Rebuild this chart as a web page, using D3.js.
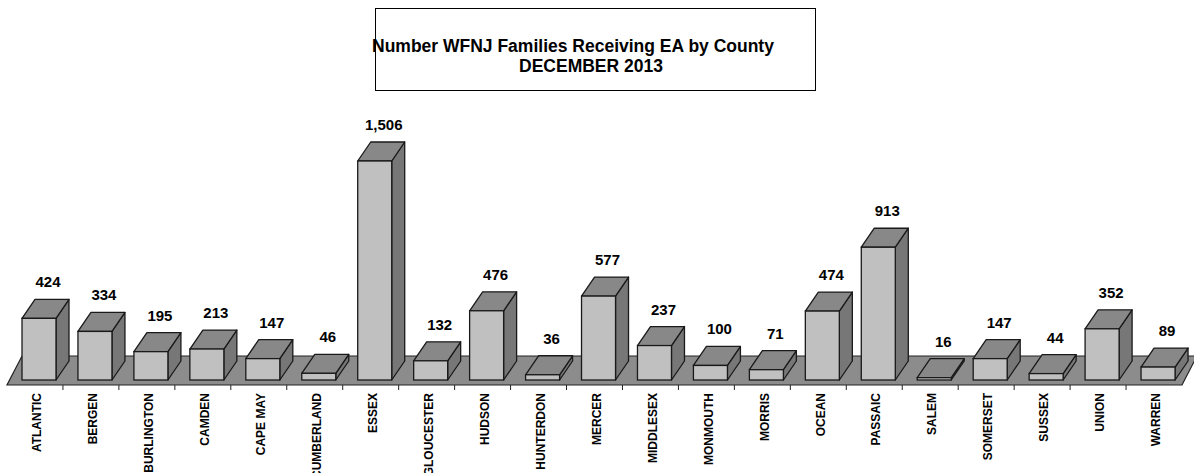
<!DOCTYPE html>
<html>
<head>
<meta charset="utf-8">
<script src="https://cdn.jsdelivr.net/npm/d3@7"></script>
<style>
  body { margin: 0; background: #fff; }
  svg { display: block; font-family: "Liberation Sans", Arial, sans-serif; }
</style>
</head>
<body>
<div id="chart"></div>
<script>
const counties = ["ATLANTIC", "BERGEN", "BURLINGTON", "CAMDEN", "CAPE MAY", "CUMBERLAND", "ESSEX",
    "GLOUCESTER", "HUDSON", "HUNTERDON", "MERCER", "MIDDLESEX", "MONMOUTH", "MORRIS", "OCEAN",
    "PASSAIC", "SALEM", "SOMERSET", "SUSSEX", "UNION", "WARREN"];
const families = [424, 334, 195, 213, 147, 46, 1506, 132, 476, 36, 577, 237, 100, 71, 474,
    913, 16, 147, 44, 352, 89];
const titleLines = ["Number WFNJ Families Receiving EA by County", "DECEMBER 2013"];

const width = 1194, height = 473;

var svg = d3.select("#chart").append("svg")
    .attr("width", width)
    .attr("height", height);

// title box
svg.append("rect")
    .attr("x", 375.5).attr("y", 8.5)
    .attr("width", 440).attr("height", 82)
    .attr("fill", "#fff").attr("stroke", "#000").attr("stroke-width", 1);

svg.append("text")
    .attr("x", 372).attr("y", 52)
    .attr("font-size", 17.5).attr("font-weight", "bold")
    .text(titleLines[0]);
svg.append("text")
    .attr("x", 591).attr("y", 72)
    .attr("text-anchor", "middle")
    .attr("font-size", 17.5).attr("font-weight", "bold")
    .text(titleLines[1]);

// floor geometry
var floorFront = 385, floorBack = 356, floorDx = 15;
var x = d3.scaleBand().domain(counties).range([7, 1182]);
var y = d3.scaleLinear().domain([0, 1506]).range([380, 161]);

var barOffset = 15, barW = 34, dx = 13, dy = -19;

svg.append("polygon")
    .attr("points", [[7, floorFront], [1182, floorFront], [1182 + floorDx, floorBack], [7 + floorDx, floorBack]].join(" "))
    .attr("fill", "#8c8c8c")
    .attr("stroke", "#222").attr("stroke-width", 1.2);

// ticks on the front edge
svg.selectAll(".tick")
    .data(counties.slice(1))
    .enter().append("line")
    .attr("x1", d => x(d)).attr("x2", d => x(d))
    .attr("y1", floorFront).attr("y2", floorFront + 5)
    .attr("stroke", "#222").attr("stroke-width", 1);

var bars = svg.selectAll(".bar")
    .data(counties.map((c, i) => ({county: c, value: families[i]})))
    .enter().append("g").attr("class", "bar");

function pts(a) { return a.map(p => p.join(",")).join(" "); }

bars.each(function (d) {
    var g = d3.select(this);
    var x0 = x(d.county) + barOffset, x1 = x0 + barW;
    var yb = y(0), yt = y(d.value);
    // side
    g.append("polygon")
        .attr("points", pts([[x1, yb], [x1, yt], [x1 + dx, yt + dy], [x1 + dx, yb + dy]]))
        .attr("fill", "#777").attr("stroke", "#1a1a1a").attr("stroke-width", 1.3)
        .attr("stroke-linejoin", "round");
    // top
    g.append("polygon")
        .attr("points", pts([[x0, yt], [x0 + dx, yt + dy], [x1 + dx, yt + dy], [x1, yt]]))
        .attr("fill", "#888").attr("stroke", "#1a1a1a").attr("stroke-width", 1.3)
        .attr("stroke-linejoin", "round");
    // front
    g.append("rect")
        .attr("x", x0).attr("y", yt)
        .attr("width", barW).attr("height", yb - yt)
        .attr("fill", "#c0c0c0").attr("stroke", "#1a1a1a").attr("stroke-width", 1.3);
    // value label
    g.append("text")
        .attr("x", x0 + barW / 2 + 9)
        .attr("y", yt - 31)
        .attr("text-anchor", "middle")
        .attr("font-size", 15).attr("font-weight", "bold")
        .text(d3.format(",")(d.value));
});

// category labels (the long ones run off the bottom, as in the original)
svg.selectAll(".cat")
    .data(counties)
    .enter().append("text")
    .attr("class", "cat")
    .attr("transform", d => "translate(" + (x(d) + x.bandwidth() / 2 + 2) + ",393) rotate(-90)")
    .attr("dy", "0.35em")
    .attr("text-anchor", "end")
    .attr("font-size", 12).attr("font-weight", "bold")
    .text(d => d);
</script>
</body>
</html>
